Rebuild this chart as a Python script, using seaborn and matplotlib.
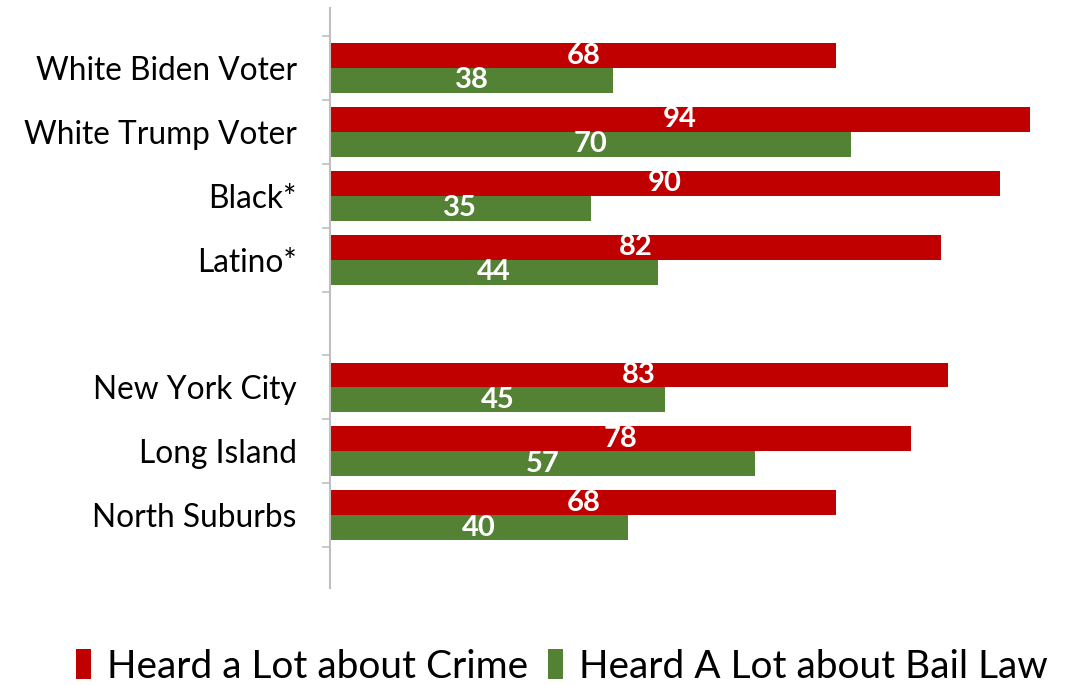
import matplotlib
matplotlib.use("Agg")
import matplotlib.pyplot as plt
import seaborn as sns
import pandas as pd
import numpy as np
from matplotlib.patches import Patch

categories = ["White Biden Voter", "White Trump Voter", "Black*", "Latino*",
              " ", "New York City", "Long Island", "North Suburbs"]
crime = [68, 94, 90, 82, None, 83, 78, 68]
bail = [38, 70, 35, 44, None, 45, 57, 40]
series = ["Heard a Lot about Crime", "Heard A Lot about Bail Law"]
colors = ["#C00000", "#548235"]

rows = []
for c, a, b in zip(categories, crime, bail):
    if a is not None:
        rows.append({"cat": c, "series": series[0], "val": a})
        rows.append({"cat": c, "series": series[1], "val": b})
df = pd.DataFrame(rows)

sns.set_theme(style="white")
plt.rcParams["font.family"] = ["Lato", "DejaVu Sans"]
plt.rcParams["text.color"] = "black"

fig = plt.figure(figsize=(10.74, 6.85), dpi=100)
ax = fig.add_axes([330 / 1074, 1 - 588 / 685, 707.5 / 1074, 580 / 685])

sns.barplot(data=df, x="val", y="cat", hue="series", order=categories,
            hue_order=series, palette=colors, orient="h", width=0.78,
            saturation=1, errorbar=None, legend=False, linewidth=0, ax=ax)

ax.set_xlim(0, 95)
ax.set_ylim(8.14, -0.94)
ax.set_xlabel("")
ax.set_ylabel("")
for s in ["top", "right", "bottom"]:
    ax.spines[s].set_visible(False)
ax.spines["left"].set_color("#BFBFBF")
ax.spines["left"].set_linewidth(1.5)
ax.set_xticks([])

ax.set_yticks(range(len(categories)))
ax.set_yticklabels(categories, fontsize=22.8, color="#000000")
ax.tick_params(axis="y", which="major", length=0, pad=24)
ax.set_yticks(np.arange(-0.5, len(categories), 1.0), minor=True)
ax.tick_params(axis="y", which="minor", length=6, width=1.2, color="#BFBFBF", left=True)

for cont in ax.containers:
    ax.bar_label(cont, label_type="center", color="white", fontsize=21,
                 fontweight="bold")

handles = [Patch(facecolor=c, edgecolor="none") for c in colors]
fig.legend(handles, series, loc="center", bbox_to_anchor=(0.523, 0.027),
           ncol=2, frameon=False, fontsize=28, handlelength=0.4,
           handleheight=0.8, handletextpad=0.4, columnspacing=0.5,
           labelcolor="black")

fig.savefig("out.png", dpi=100)
